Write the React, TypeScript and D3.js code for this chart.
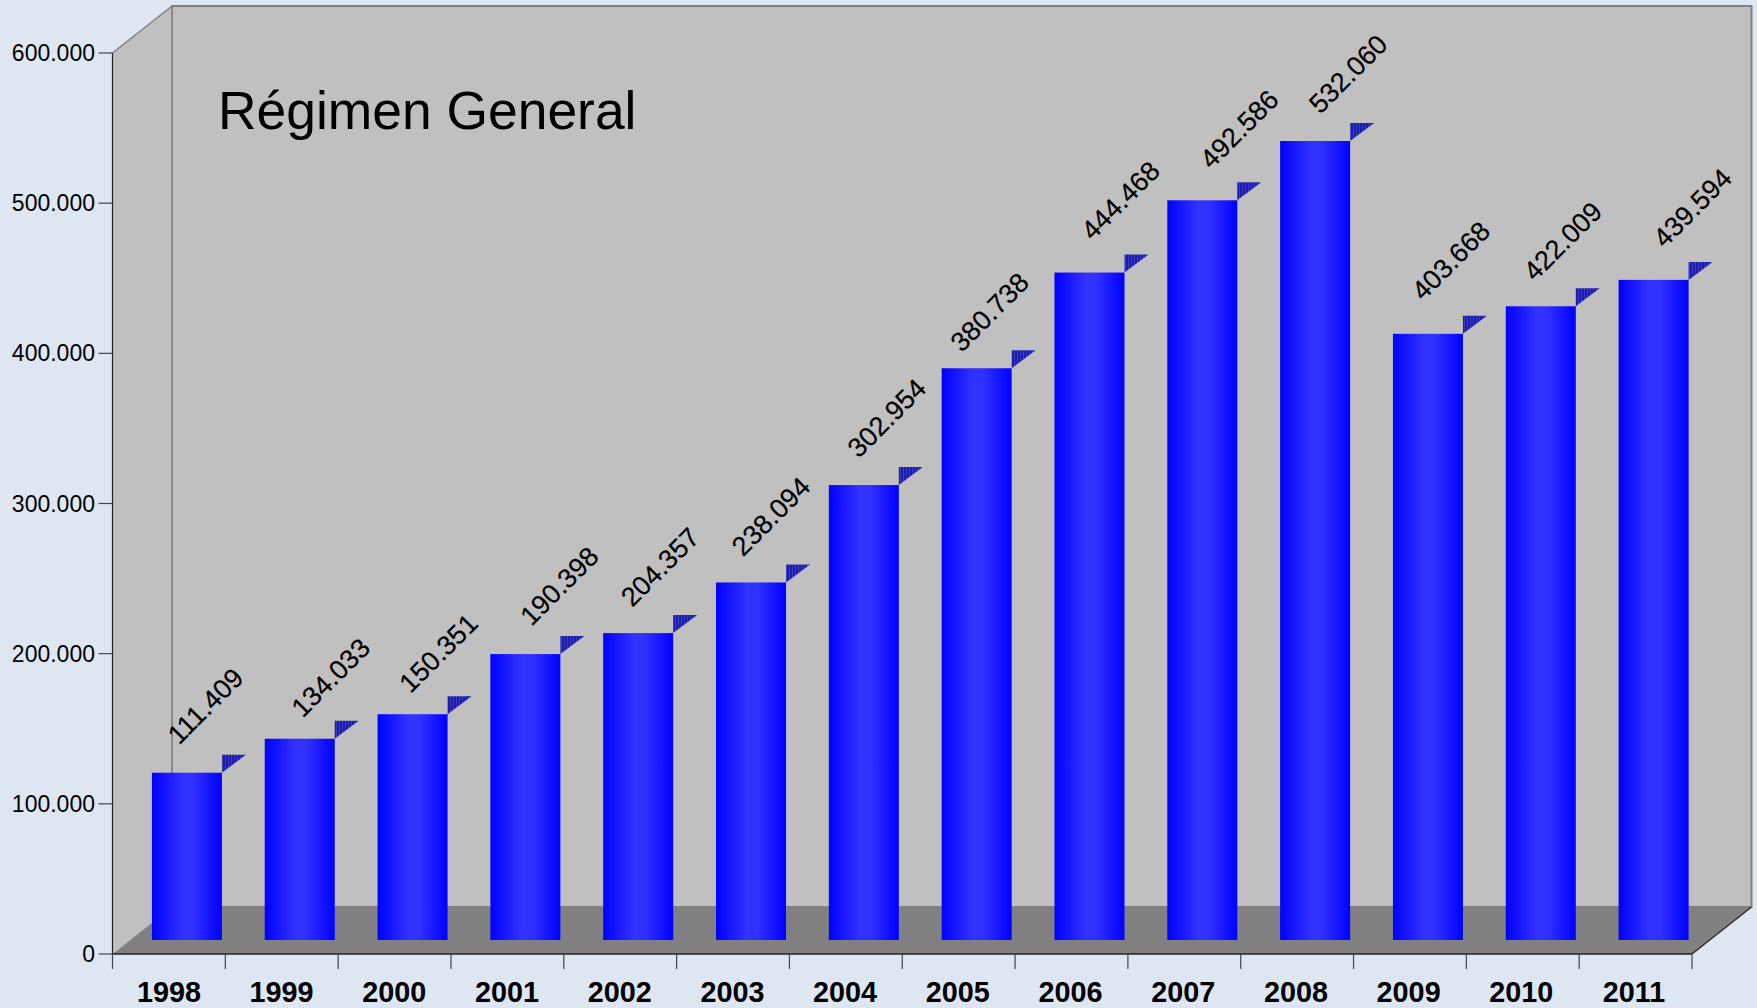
import React from "react";
import * as d3 from "d3";

// Afiliación al Régimen General por año
const years = ["1998","1999","2000","2001","2002","2003","2004","2005","2006","2007","2008","2009","2010","2011"];
const values = [111409,134033,150351,190398,204357,238094,302954,380738,444468,492586,532060,403668,422009,439594];
const yTicks = [0,100000,200000,300000,400000,500000,600000];
const chartTitle = "Régimen General";

// Hand placement of the rotated value labels, one per bar
const labelNudgeX = [3,14,9,17,5,3,6,-4,14,20,16,6,5,22];
const labelNudgeY = [0,7,7,0,2,2,1,12,-4,-3,1,-5,3,-4];

const W = 1757, H = 1008;
const left = 112.5, right = 1692, top = 53, bottom = 954;
const wallDx = 59.5, wallDy = -47;
const barShiftX = 18, barShiftY = -14;
const depthX = 24, depthY = -18;
const barW = 70;

const x = d3.scaleBand<string>().domain(years).range([left, right]);
const y = d3.scaleLinear().domain([0, 600000]).range([bottom, top]);
const fmt = d3.formatLocale({ decimal: ",", thousands: ".", grouping: [3], currency: ["", ""] }).format(",d");
const poly = d3.line();
const font = "'Liberation Sans', Arial, sans-serif";

export default function App() {
  const band = x.bandwidth();
  return (
    <svg width={W} height={H} style={{ position: "absolute", left: 0, top: 0, display: "block" }} fontFamily={font}>
      <defs>
        <linearGradient id="barFill" x1="0" x2="1" y1="0" y2="0">
          <stop offset="0" stopColor="#0000ff" />
          <stop offset="0.45" stopColor="#3333ff" />
          <stop offset="0.6" stopColor="#3030ff" />
          <stop offset="1" stopColor="#0000ff" />
        </linearGradient>
        <pattern id="barTop" width="3" height="3" patternUnits="userSpaceOnUse">
          <rect width="3" height="3" fill="#1a1abc" />
          <rect width="1" height="3" fill="#4040a0" />
        </pattern>
      </defs>
      <rect width={W} height={H} fill="#dee6f2" />

      {/* back wall, side wall and floor */}
      <rect x={left + wallDx} y={top + wallDy} width={right - left} height={bottom - top} fill="#c0c0c0" stroke="#808080" strokeWidth={2} />
      <path d={poly([[left, top],[left + wallDx, top + wallDy],[left + wallDx, bottom + wallDy],[left, bottom]]) + "Z"} fill="#c0c0c0" />
      <path d={poly([[left, top],[left + wallDx, top + wallDy]])!} stroke="#808080" strokeWidth={1.5} fill="none" />
      <line x1={left + wallDx} x2={left + wallDx} y1={top + wallDy} y2={bottom + wallDy} stroke="#808080" strokeWidth={1.5} />
      <path d={poly([[left, bottom],[left + wallDx, bottom + wallDy],[right + wallDx, bottom + wallDy],[right, bottom]]) + "Z"} fill="#808080" />
      <path d={poly([[right, bottom],[right + wallDx, bottom + wallDy]])!} stroke="#222" strokeWidth={1.2} fill="none" />

      <text x={218} y={129} fontSize={53.4} fill="#000">{chartTitle}</text>

      {/* axes */}
      <line x1={left} x2={left} y1={top} y2={bottom} stroke="#222" strokeWidth={1.2} />
      <line x1={left} x2={right} y1={bottom} y2={bottom} stroke="#222" strokeWidth={1.5} />
      {yTicks.map((t) => (
        <g key={t}>
          <line x1={left - 14} x2={left} y1={y(t)} y2={y(t)} stroke="#444" strokeWidth={1.2} />
          <text x={95} y={y(t) + 8} fontSize={23} textAnchor="end" fill="#000">{t === 0 ? "0" : fmt(t)}</text>
        </g>
      ))}
      {[...years.map((c) => x(c)!), right].map((px, i) => (
        <line key={i} x1={px} x2={px} y1={bottom} y2={bottom + 15} stroke="#444" strokeWidth={1.2} />
      ))}
      {years.map((c, i) => (
        <text key={c} x={x(c)! + band / 2 - i * 0.12} y={1002} fontSize={28.8} fontWeight="bold" textAnchor="middle" fill="#000">{c}</text>
      ))}

      {/* bars with their depth corner and rotated value */}
      {values.map((v, i) => {
        const x0 = x(years[i])! + (band - barW) / 2 + barShiftX;
        const yTop = y(v) + barShiftY;
        const yBase = y(0) + barShiftY;
        return (
          <g key={years[i]}>
            <path d={poly([[x0 + barW, yTop],[x0 + barW, yTop + depthY],[x0 + barW + depthX, yTop + depthY]]) + "Z"} fill="url(#barTop)" />
            <rect x={x0} y={yTop} width={barW} height={yBase - yTop} fill="url(#barFill)" />
            <text
              transform={`translate(${x0 + 24 + labelNudgeX[i]},${yTop - 27 + labelNudgeY[i]}) rotate(-45)`}
              fontSize={27}
              fill="#000"
              stroke="#000"
              strokeWidth={0.2}
            >
              {fmt(v)}
            </text>
          </g>
        );
      })}
    </svg>
  );
}
